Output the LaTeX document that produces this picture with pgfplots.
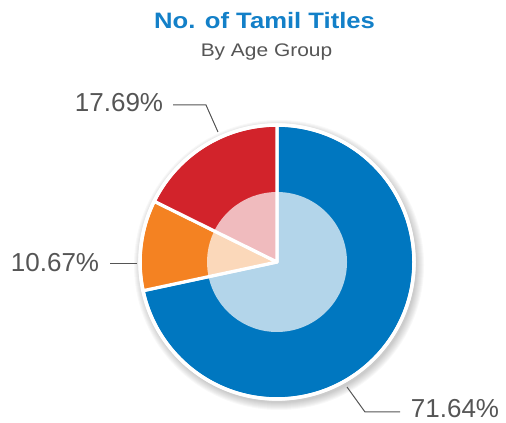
\documentclass[border=0pt]{standalone}
\usepackage{pgfplots}
\usepackage{pgfplotstable}
\pgfplotsset{compat=1.18}
\usepackage{fontspec}
\setmainfont{Liberation Sans}
\newfontfamily\widefont[FakeStretch=1.15]{Liberation Sans}
\definecolor{cblue}{HTML}{0077C0}
\definecolor{lblue}{HTML}{B3D5EA}
\definecolor{corange}{HTML}{F48222}
\definecolor{lorange}{HTML}{FBD8BA}
\definecolor{cred}{HTML}{D2232B}
\definecolor{lred}{HTML}{F0BBBE}
\definecolor{ctitle}{HTML}{1380C8}
\definecolor{ctext}{HTML}{555555}

\pgfplotstableread{
value  outer   inner
71.64  cblue   lblue
10.67  corange lorange
17.69  cred    lred
}\piedata

\begin{document}
\begin{tikzpicture}
\useasboundingbox (0,0) rectangle (506bp,423bp);
\begin{axis}[
  at={(0,0)}, anchor=south west,
  scale only axis, width=506bp, height=423bp,
  xmin=0, xmax=506, ymin=0, ymax=423,
  hide axis, clip=false]
% soft shadow
\pgfplotsinvokeforeach{1,2,3,4,5,6,7,8}{
  \fill[black, opacity=0.028] (axis cs:279,158) circle[radius={137bp+#1bp}];
}
% leader lines
\draw[ctext, line width=1bp] (axis cs:173,318) -- (axis cs:206,318) -- (axis cs:218,291);
\draw[ctext, line width=1bp] (axis cs:110,159) -- (axis cs:137,159);
\draw[ctext, line width=1bp] (axis cs:347,36) -- (axis cs:365,11) -- (axis cs:400,11);
% pie
\xdef\angA{90}
\foreach \i in {0,1,2}{
  \pgfplotstablegetelem{\i}{value}\of\piedata \let\v\pgfplotsretval
  \pgfplotstablegetelem{\i}{outer}\of\piedata \let\co\pgfplotsretval
  \pgfplotstablegetelem{\i}{inner}\of\piedata \let\ci\pgfplotsretval
  \pgfmathsetmacro\angB{\angA-3.6*\v}
  \edef\temp{%
    \noexpand\fill[\co] (axis cs:277,161) -- ++(\angA:137bp) arc[start angle=\angA,end angle=\angB,radius=137bp] -- cycle;
    \noexpand\fill[\ci] (axis cs:277,161) -- ++(\angA:70bp) arc[start angle=\angA,end angle=\angB,radius=70bp] -- cycle;
    \noexpand\draw[white, line width=3.2bp, line join=round] (axis cs:277,161) -- ++(\angA:137bp) arc[start angle=\angA,end angle=\angB,radius=137bp] -- cycle;
  }
  \temp
  \xdef\angA{\angB}
}
\draw[white, line width=3.5bp] (axis cs:277,161) circle[radius=137bp];
% texts
\node[anchor=base, text=ctitle, font=\widefont\bfseries\fontsize{22.3bp}{26bp}\selectfont, inner sep=0pt] at (axis cs:264.5,394) {No. of Tamil Titles};
\node[anchor=base, text=ctext, font=\widefont\fontsize{18.2bp}{22bp}\selectfont, inner sep=0pt] at (axis cs:266.5,366) {By Age Group};
\node[anchor=base, text=ctext, font=\fontsize{26bp}{30bp}\selectfont, inner sep=0pt] at (axis cs:119,311) {17.69\%};
\node[anchor=base, text=ctext, font=\fontsize{26bp}{30bp}\selectfont, inner sep=0pt] at (axis cs:55,151) {10.67\%};
\node[anchor=base, text=ctext, font=\fontsize{26bp}{30bp}\selectfont, inner sep=0pt] at (axis cs:455,6) {71.64\%};
\end{axis}
\end{tikzpicture}
\end{document}
